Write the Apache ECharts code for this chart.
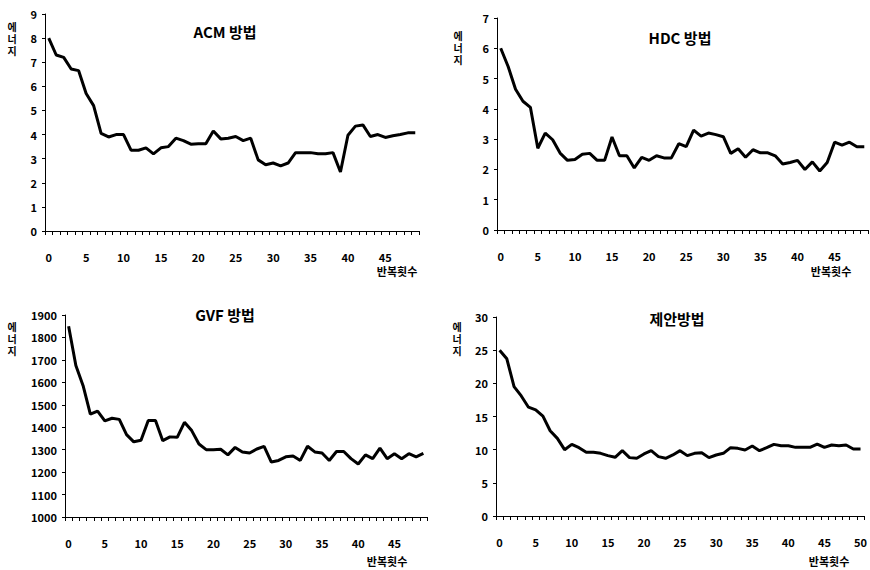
<!DOCTYPE html>
<html>
<head>
<meta charset="utf-8">
<script src="https://cdn.jsdelivr.net/npm/echarts@6/dist/echarts.min.js"></script>
<style>
  html, body { margin: 0; padding: 0; background: #fff; }
  #myChart { width: 870px; height: 570px; }
</style>
</head>
<body>
<div id="myChart"></div>
<script>
// 반복횟수 (iterations)
var iter50 = [];
for (var i = 0; i < 50; i++) iter50.push(String(i));
var iter51 = iter50.concat(['50']);

// 에너지 values
var acm = [8.0, 7.3, 7.2, 6.72, 6.65, 5.7, 5.2, 4.05, 3.9, 4.0,
  4.0, 3.35, 3.35, 3.45, 3.2, 3.45, 3.5, 3.85, 3.75, 3.6,
  3.62, 3.62, 4.15, 3.82, 3.85, 3.92, 3.75, 3.85, 2.95, 2.75,
  2.82, 2.7, 2.82, 3.25, 3.25, 3.25, 3.2, 3.2, 3.25, 2.45,
  3.97, 4.35, 4.4, 3.92, 4.0, 3.88, 3.95, 4.0, 4.07, 4.07];
var hdc = [6.0, 5.4, 4.65, 4.25, 4.05, 2.7, 3.2, 2.98, 2.54, 2.3,
  2.33, 2.5, 2.53, 2.3, 2.3, 3.07, 2.45, 2.45, 2.05, 2.4,
  2.3, 2.45, 2.38, 2.38, 2.85, 2.75, 3.3, 3.1, 3.2, 3.15,
  3.08, 2.53, 2.68, 2.4, 2.65, 2.55, 2.55, 2.45, 2.18, 2.23,
  2.3, 2.0, 2.25, 1.95, 2.23, 2.9, 2.8, 2.9, 2.75, 2.75];
var gvf = [1850, 1675, 1585, 1458, 1472, 1428, 1440, 1435, 1367, 1335,
  1342, 1430, 1430, 1340, 1357, 1355, 1422, 1385, 1325, 1300,
  1300, 1302, 1277, 1310, 1290, 1285, 1303, 1315, 1245, 1252,
  1268, 1272, 1252, 1315, 1290, 1285, 1252, 1292, 1292, 1260,
  1236, 1277, 1260, 1307, 1260, 1282, 1260, 1282, 1268, 1283];
var proposed = [25.0, 23.7, 19.5, 18.1, 16.4, 16.0, 15.05, 12.85, 11.7, 10.0,
  10.8, 10.3, 9.6, 9.6, 9.45, 9.1, 8.85, 9.85, 8.8, 8.7,
  9.35, 9.85, 8.95, 8.7, 9.2, 9.85, 9.1, 9.45, 9.55, 8.8,
  9.2, 9.45, 10.3, 10.2, 9.95, 10.55, 9.85, 10.3, 10.8, 10.6,
  10.6, 10.35, 10.35, 10.35, 10.85, 10.35, 10.7, 10.6, 10.7, 10.1, 10.1];

var titles = ['ACM 방법', 'HDC 방법', 'GVF 방법', '제안방법'];
var xName = '반복횟수';
var yName = '에너지';

var font = '"Noto Sans CJK KR", "Noto Sans", sans-serif';

// panel boxes [left, top, width, height]
var boxes = [
  [45, 14, 374, 217],
  [497, 18, 371, 212],
  [65, 315, 362, 202],
  [496, 317, 370, 199]
];
var yRanges = [
  {min: 0, max: 9, interval: 1},
  {min: 0, max: 7, interval: 1},
  {min: 1000, max: 1900, interval: 100},
  {min: 0, max: 30, interval: 5}
];
var seriesData = [acm, hdc, gvf, proposed];
var cats = [iter50, iter50, iter50, iter51];

// text centres
var titlePos = [[225, 31], [680, 37], [225, 314], [677, 318]];
var xNamePos = [[397, 271], [831, 271], [387, 561], [829, 561]];
var yNamePos = [[12, 26], [458, 35], [12, 326], [457, 326]]; // first character

var grid = [], xAxis = [], yAxis = [], series = [], graphic = [];

boxes.forEach(function (b, k) {
  grid.push({left: b[0], top: b[1], width: b[2], height: b[3]});
  xAxis.push({
    type: 'category',
    gridIndex: k,
    data: cats[k],
    boundaryGap: true,
    axisLine: {lineStyle: {color: '#000', width: 1}},
    axisTick: {show: true, interval: 0, length: 4, lineStyle: {color: '#000'}},
    axisLabel: {interval: 4, margin: 20, color: '#000', fontSize: 11, fontWeight: 'bold', fontFamily: font},
    splitLine: {show: false}
  });
  yAxis.push({
    type: 'value',
    gridIndex: k,
    min: yRanges[k].min,
    max: yRanges[k].max,
    interval: yRanges[k].interval,
    axisLine: {show: true, lineStyle: {color: '#000', width: 1}},
    axisTick: {show: true, length: 3, lineStyle: {color: '#000'}},
    axisLabel: {
      margin: 8, color: '#000', fontSize: 11, fontWeight: 'bold', fontFamily: font,
      formatter: function (v) { return String(v); }
    },
    splitLine: {show: false}
  });
  series.push({
    type: 'line',
    xAxisIndex: k,
    yAxisIndex: k,
    data: seriesData[k],
    symbol: 'none',
    lineStyle: {color: '#000', width: 3},
    animation: false
  });
  graphic.push({
    type: 'text', x: titlePos[k][0], y: titlePos[k][1],
    style: {text: titles[k], fill: '#000', font: 'bold 15px ' + font, align: 'center', verticalAlign: 'middle'}
  });
  graphic.push({
    type: 'text', x: xNamePos[k][0], y: xNamePos[k][1],
    style: {text: xName, fill: '#000', font: 'bold 11px ' + font, align: 'center', verticalAlign: 'middle'}
  });
  // vertical axis name, one character per line
  yName.split('').forEach(function (ch, j) {
    graphic.push({
      type: 'text', x: yNamePos[k][0], y: yNamePos[k][1] + j * 12,
      style: {text: ch, fill: '#000', font: 'bold 10px ' + font, align: 'center', verticalAlign: 'middle'}
    });
  });
});

var myChart = echarts.init(document.getElementById('myChart'), null, {renderer: 'svg'});
myChart.setOption({
  backgroundColor: '#fff',
  animation: false,
  grid: grid,
  xAxis: xAxis,
  yAxis: yAxis,
  series: series,
  graphic: graphic
});
</script>
</body>
</html>
